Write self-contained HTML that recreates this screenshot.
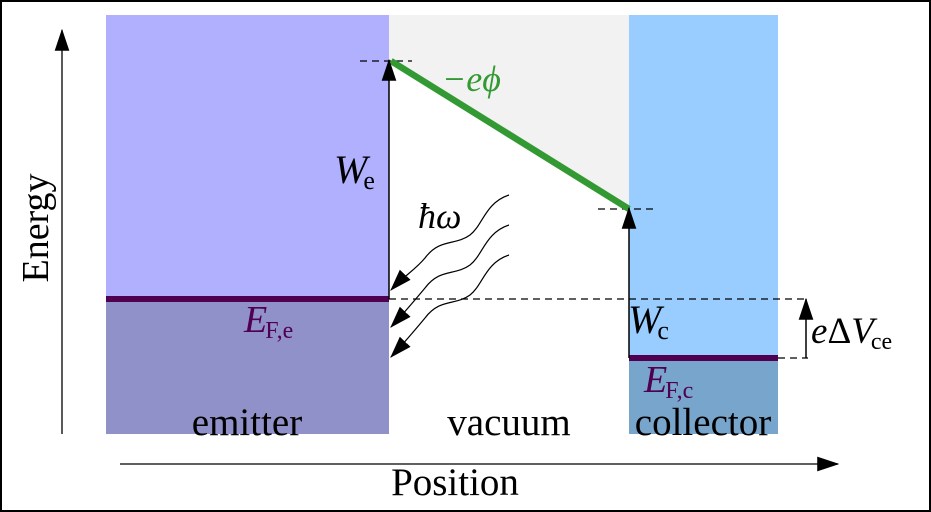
<!DOCTYPE html>
<html><head><meta charset="utf-8"><style>
body{margin:0;background:#fff}
svg{display:block}
text{font-family:"Liberation Serif",serif}
</style></head><body>
<svg width="931" height="512" viewBox="0 0 931 512" xmlns="http://www.w3.org/2000/svg">
<defs>
<marker id="ah2" viewBox="0 0 18 12" refX="17" refY="6" markerWidth="22" markerHeight="15" orient="auto" markerUnits="userSpaceOnUse">
<path d="M0,0 L18,6 L0,12 z" fill="#000"/></marker>
</defs>
<rect x="1" y="1" width="929" height="510" fill="#fff" stroke="#000" stroke-width="2"/>
<rect x="106" y="15" width="283" height="284" fill="#b0b0ff"/>
<rect x="106" y="299" width="283" height="135" fill="#9191c9"/>
<rect x="389" y="15" width="240" height="419" fill="#fff"/>
<polygon points="389,15 629,15 629,209 389,61" fill="#f2f2f2"/>
<rect x="629" y="15" width="149" height="343" fill="#99ccff"/>
<rect x="629" y="358" width="149" height="76" fill="#78a5cc"/>
<line x1="106" y1="299" x2="389" y2="299" stroke="#500050" stroke-width="6"/>
<line x1="629" y1="358" x2="778" y2="358" stroke="#500050" stroke-width="6"/>
<g stroke="#000" stroke-width="1.3" stroke-dasharray="7,5" fill="none">
<line x1="360" y1="61" x2="412" y2="61"/>
<line x1="598" y1="209" x2="654" y2="209"/>
<line x1="389" y1="299" x2="808" y2="299"/>
<line x1="778" y1="358" x2="808" y2="358"/>
</g>
<line x1="391" y1="61" x2="629" y2="209" stroke="#339933" stroke-width="6.5"/>
<g stroke="#000" stroke-width="1.5" fill="none">
<line x1="389" y1="299" x2="389" y2="60" marker-end="url(#ah2)"/>
<line x1="629" y1="358" x2="629" y2="208" marker-end="url(#ah2)"/>
<line x1="806" y1="358" x2="806" y2="299" marker-end="url(#ah2)"/>
<line x1="62" y1="434" x2="62" y2="30" marker-end="url(#ah2)" stroke-width="1.3"/>
<line x1="120" y1="464" x2="838" y2="464" marker-end="url(#ah2)" stroke-width="1.3"/>
<path d="M509,195 C485,203 483,225 470,235 C455,246 440,238 425,258 C415,270 405,275 391,290" marker-end="url(#ah2)" stroke-width="1.2"/>
<path d="M509,225 C485,233 483,255 470,265 C455,276 440,268 425,288 C415,300 405,312 391,327" marker-end="url(#ah2)" stroke-width="1.2"/>
<path d="M509,255 C485,263 483,285 470,295 C455,306 440,298 425,318 C415,330 405,342 391,357" marker-end="url(#ah2)" stroke-width="1.2"/>
</g>
<text x="442" y="91" font-size="36" fill="#339933" font-style="italic">−eϕ</text>
<text x="334" y="183" font-size="40" font-style="italic">W<tspan font-style="normal" font-size="26" dx="-4" dy="6">e</tspan></text>
<text x="418" y="228" font-size="36" font-style="italic">ħω</text>
<text x="244" y="332" font-size="38" font-style="italic" fill="#500050">E<tspan font-style="normal" font-size="24" dy="6" dx="-2">F,e</tspan></text>
<text x="628" y="333" font-size="40" font-style="italic">W<tspan font-style="normal" font-size="26" dx="-4" dy="6">c</tspan></text>
<text x="644" y="392" font-size="38" font-style="italic" fill="#500050">E<tspan font-style="normal" font-size="24" dy="6" dx="-2">F,c</tspan></text>
<text x="811" y="343" font-size="37"><tspan font-style="italic">e</tspan>Δ<tspan font-style="italic">V</tspan><tspan font-size="24" dx="-3" dy="6">ce</tspan></text>
<text x="247" y="435" font-size="39" text-anchor="middle">emitter</text>
<text x="509" y="435" font-size="39" text-anchor="middle">vacuum</text>
<text x="703" y="435" font-size="39" text-anchor="middle">collector</text>
<text x="455" y="495" font-size="39" text-anchor="middle">Position</text>
<text transform="translate(48,228) rotate(-90)" font-size="38" text-anchor="middle">Energy</text>
</svg>
</body></html>
